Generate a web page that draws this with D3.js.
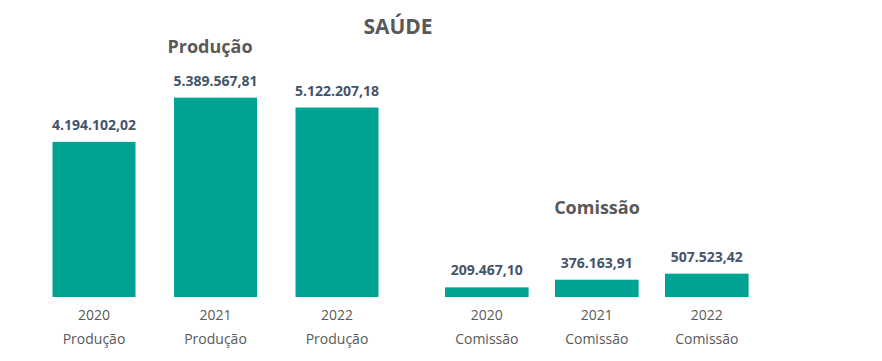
<!DOCTYPE html>
<html lang="pt">
<head>
  <meta charset="UTF-8">
  <title>SAÚDE</title>
  <script src="https://d3js.org/d3.v7.min.js"></script>
  <style>
    body { margin: 0; background: #fff; }
    text { font-family: "Open Sans", "Liberation Sans", sans-serif; }
  </style>
</head>
<body>
  <script>
    // data
    const years = ["2020", "2021", "2022"];
    const producao = [4194102.02, 5389567.81, 5122207.18];
    const comissao = [209467.10, 376163.91, 507523.42];

    const width = 882, height = 361, baseline = 297;
    const barColor = "#00A294", labelColor = "#44546A", textColor = "#595959";

    const fmt = v => v.toLocaleString("pt-BR", { minimumFractionDigits: 2, maximumFractionDigits: 2 });

    const svg = d3.select("body").append("svg")
      .attr("width", width)
      .attr("height", height);

    svg.append("text")
      .attr("x", 398).attr("y", 34)
      .attr("text-anchor", "middle")
      .attr("font-size", 21).attr("font-weight", "bold")
      .attr("fill", textColor)
      .text("SAÚDE");

    // each group is drawn as its own small chart with its own scale
    const groups = [
      { name: "Produção", values: producao, x: [14, 417], pad: 0.317, y: [0, 5380000], top: 98, title: [210, 53] },
      { name: "Comissão", values: comissao, x: [418.6, 775], pad: 0.24, y: [0, 500000], top: 274, title: [597, 214] }
    ];

    groups.forEach(g => {
      const x = d3.scaleBand().domain(years).range(g.x).padding(g.pad);
      const y = d3.scaleLinear().domain(g.y).range([baseline, g.top]);
      const cx = d => x(d) + x.bandwidth() / 2;
      const layer = svg.append("g");

      layer.selectAll("rect")
        .data(years)
        .join("rect")
        .attr("x", d => x(d))
        .attr("y", (d, i) => y(g.values[i]))
        .attr("width", x.bandwidth())
        .attr("height", (d, i) => baseline - y(g.values[i]))
        .attr("fill", barColor);

      layer.selectAll("text.val")
        .data(years)
        .join("text")
        .attr("class", "val")
        .attr("x", cx)
        .attr("y", (d, i) => y(g.values[i]) - 12)
        .attr("text-anchor", "middle")
        .attr("font-size", 14).attr("font-weight", "bold")
        .attr("fill", labelColor)
        .text((d, i) => fmt(g.values[i]));

      // category axis: year on first line, group name on second
      const axis = layer.append("g")
        .attr("transform", `translate(0, ${baseline})`)
        .call(d3.axisBottom(x).tickSize(0).tickPadding(0).tickFormat(""));
      axis.select(".domain").remove();
      axis.selectAll(".tick").each(function (d) {
        const t = d3.select(this);
        t.append("text").attr("y", 23).attr("text-anchor", "middle")
          .attr("font-size", 14).attr("fill", textColor).text(d);
        t.append("text").attr("y", 47).attr("text-anchor", "middle")
          .attr("font-size", 14).attr("fill", textColor).text(g.name);
      });

      layer.append("text")
        .attr("x", g.title[0])
        .attr("y", g.title[1])
        .attr("text-anchor", "middle")
        .attr("font-size", 18).attr("font-weight", "bold")
        .attr("fill", textColor)
        .text(g.name);
    });
  </script>
</body>
</html>
